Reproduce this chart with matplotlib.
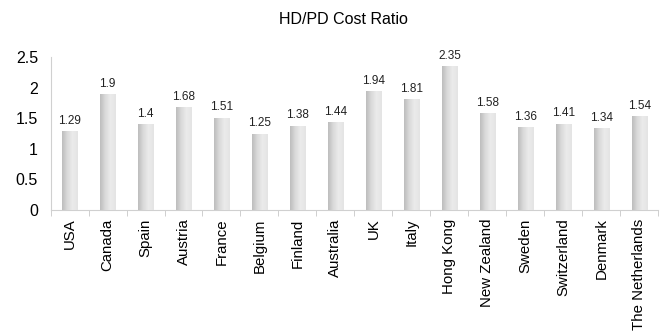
import matplotlib.pyplot as plt
import numpy as np
from matplotlib.colors import LinearSegmentedColormap

plt.rcParams['font.family'] = ['Liberation Sans', 'DejaVu Sans']

countries = ['USA', 'Canada', 'Spain', 'Austria', 'France', 'Belgium', 'Finland',
             'Australia', 'UK', 'Italy', 'Hong Kong', 'New Zealand', 'Sweden',
             'Switzerland', 'Denmark', 'The Netherlands']
ratios = [1.29, 1.9, 1.4, 1.68, 1.51, 1.25, 1.38, 1.44, 1.94, 1.81, 2.35,
          1.58, 1.36, 1.41, 1.34, 1.54]

fig = plt.figure(figsize=(6.65, 3.36), dpi=100)
ax = fig.add_axes([0.076, 0.375, 0.914, 0.455])

x = np.arange(len(countries))
bars = ax.bar(x, ratios, width=0.4, color='#d6d6d6', edgecolor='none', zorder=2)

# shaded cylinder look on every bar
shade = LinearSegmentedColormap.from_list('shade', ['#bdbdbd', '#dadada', '#ebebeb', '#e4e4e4'])
grad = np.linspace(0, 1, 64).reshape(1, -1)
for b in bars:
    x0, w, h = b.get_x(), b.get_width(), b.get_height()
    im = ax.imshow(grad, cmap=shade, aspect='auto', extent=(x0, x0 + w, 0, h),
                   zorder=3, interpolation='bilinear')
    im.set_clip_path(b)

for xi, v in zip(x, ratios):
    ax.text(xi, v + 0.07, f'{v:g}', ha='center', va='bottom', fontsize=8.5, color='#222222')

ax.set_xlim(-0.5, len(countries) - 0.5)
ax.set_ylim(0, 2.5)
ax.set_yticks([0, 0.5, 1, 1.5, 2, 2.5])
ax.set_yticklabels(['0', '0.5', '1', '1.5', '2', '2.5'], fontsize=11.5)
ax.set_xticks(x)
ax.set_xticklabels(countries, rotation=90, fontsize=10.8)
ax.tick_params(axis='x', length=0, pad=6)
ax.tick_params(axis='y', length=0, pad=9)
ax.set_xticks(np.arange(-0.5, len(countries)), minor=True)
ax.tick_params(axis='x', which='minor', length=4, color='#c8c8c8', direction='out')

for side in ['top', 'right']:
    ax.spines[side].set_visible(False)
for side in ['left', 'bottom']:
    ax.spines[side].set_color('#d0d0d0')
    ax.spines[side].set_linewidth(0.8)

fig.suptitle('HD/PD Cost Ratio', fontsize=11.5, y=0.965, x=0.517)

fig.savefig('out.png', dpi=100)
